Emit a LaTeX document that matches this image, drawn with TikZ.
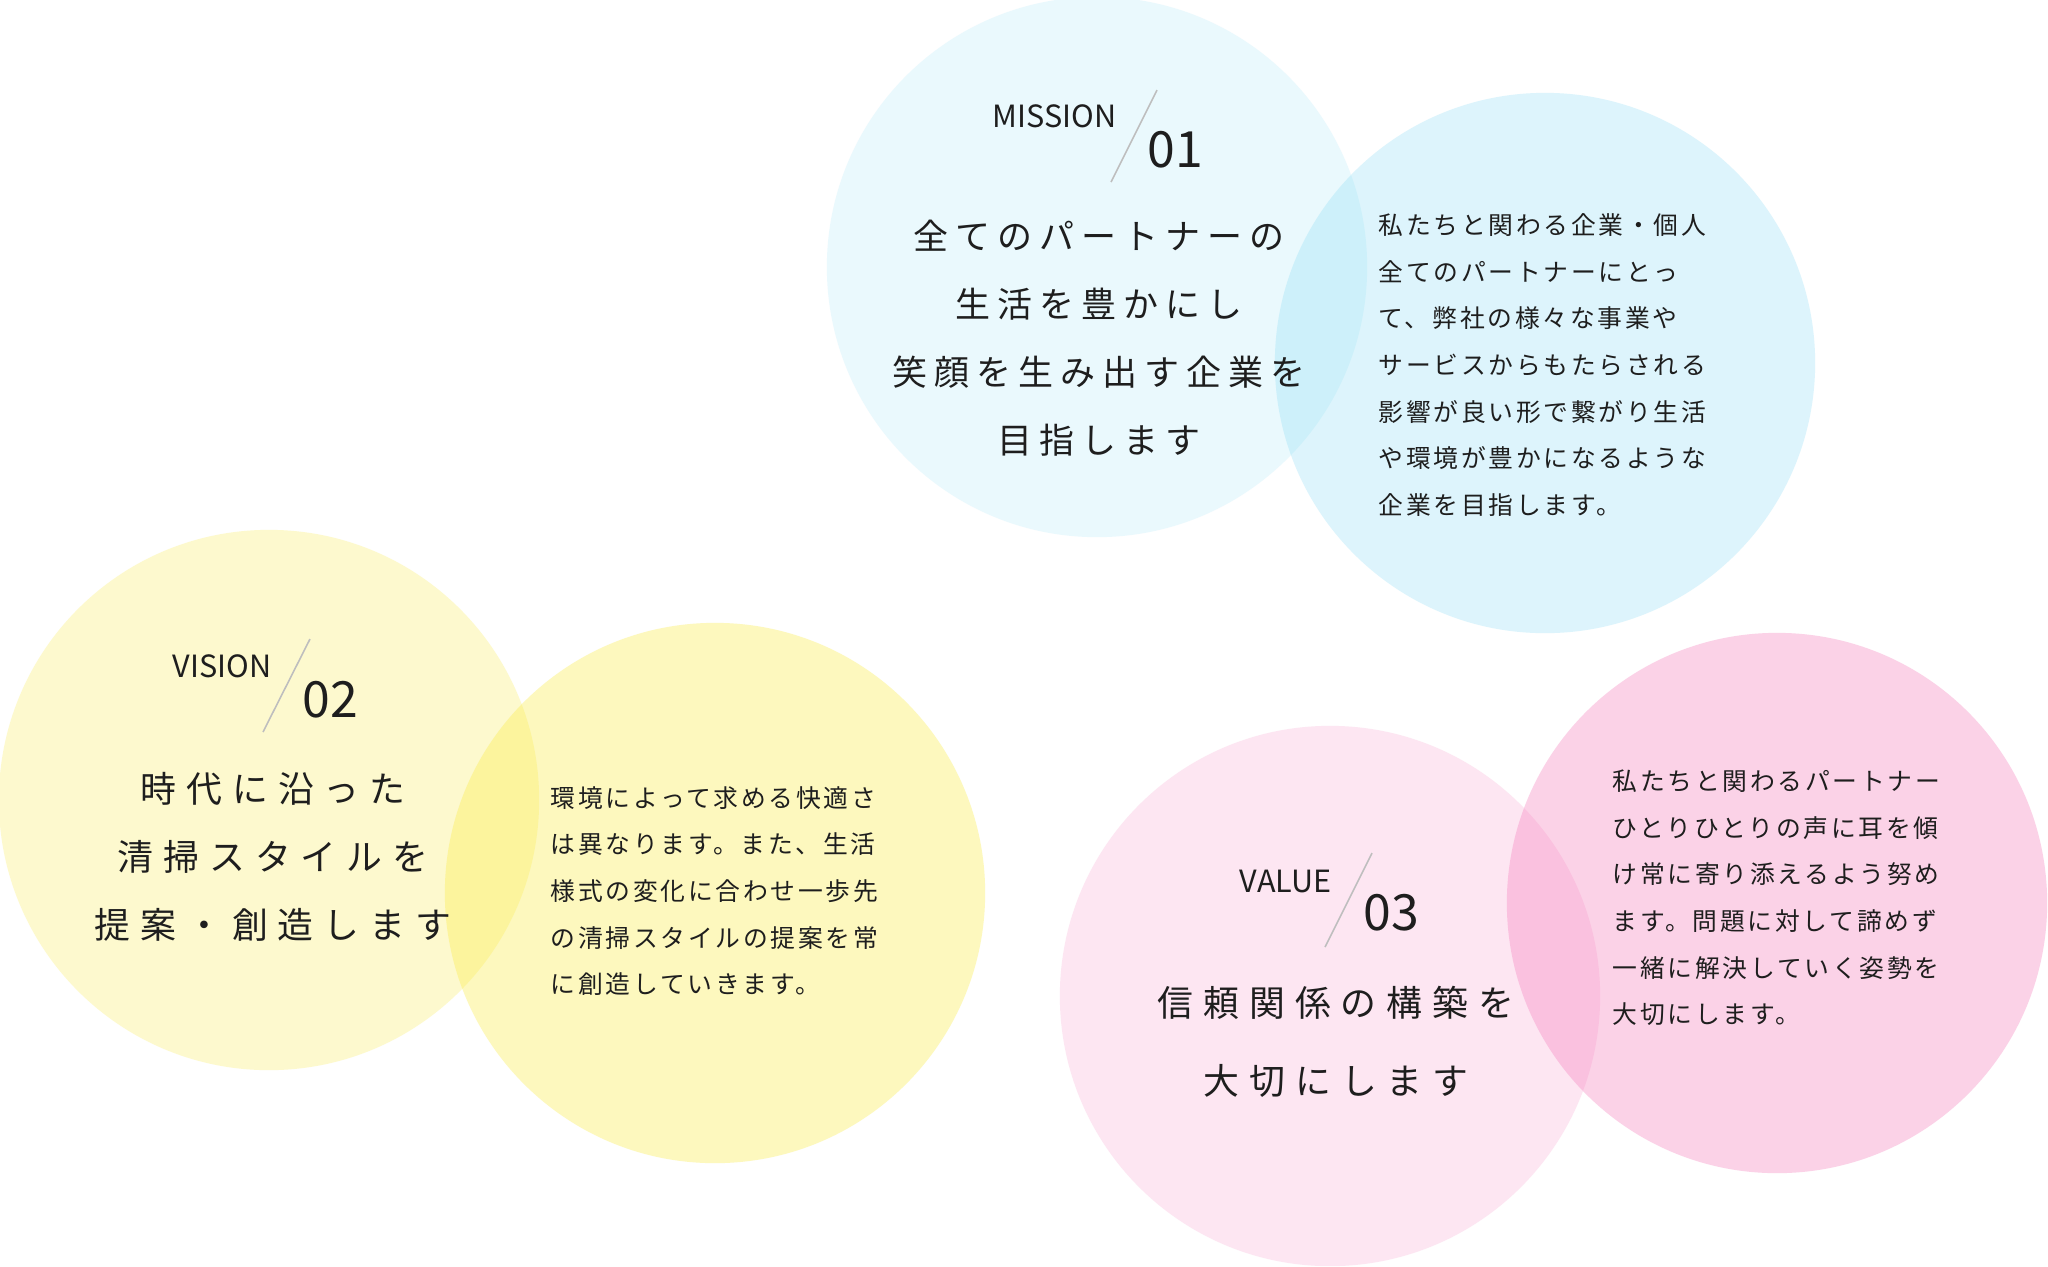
\documentclass[tikz,border=0pt]{standalone}
\usepackage{fontspec}
\usepackage{tikz}
\newfontfamily\jpfont{Noto Sans CJK JP}
\newfontfamily\jphead[LetterSpace=20]{Noto Sans CJK JP}
\newfontfamily\jpheadwide[LetterSpace=28]{Noto Sans CJK JP}
\newfontfamily\jpbody[LetterSpace=11]{Noto Sans CJK JP}
\definecolor{skyblue}{RGB}{120, 215, 245}
\definecolor{lemon}{RGB}{250, 235, 60}
\definecolor{rose}{RGB}{245, 120, 185}
\definecolor{slashgray}{RGB}{190, 190, 190}
\definecolor{inkblack}{RGB}{30, 30, 30}

\begin{document}
\begin{tikzpicture}[x=0.01cm, y=-0.01cm,
    tag/.style={inner sep=0pt, text=inkblack, font=\jpfont\fontsize{8.7}{10}\selectfont},
    num/.style={inner sep=0pt, text=inkblack, font=\jpfont\fontsize{14.2}{16}\selectfont},
    heading/.style={inner sep=0pt, align=center, text=inkblack},
    bodytext/.style={inner sep=0pt, align=left, text=inkblack, font=\jpbody\fontsize{7.05}{13.26}\selectfont},
    slash/.style={draw=slashgray, line width=0.45pt}]
    \useasboundingbox (0,0) rectangle (2048,1266);
    \fill[white] (0,0) rectangle (2048,1266);

    % mission
    \fill[skyblue, fill opacity=0.15] (1097,267) circle[radius=2.7cm];
    \fill[skyblue, fill opacity=0.25] (1545,363) circle[radius=2.7cm];
    \coordinate (mtop) at (1157,90);
    \coordinate (mbot) at (1111,182);
    \draw[slash] (mtop) -- (mbot);
    \node[tag, anchor=base east] (mtag) at (1117,127) {MISSION};
    \node[num, anchor=base west] (mnum) at (1147,167) {01};
    \node[heading, font=\jphead\fontsize{9.95}{19.35}\selectfont] (mhead) at (1099,338)
        {全てのパートナーの\\生活を豊かにし\\笑顔を生み出す企業を\\目指します};
    \node[bodytext, anchor=west] (mbody) at (1378,365)
        {私たちと関わる企業・個人\\全てのパートナーにとっ\\て、弊社の様々な事業や\\サービスからもたらされる\\影響が良い形で繋がり生活\\や環境が豊かになるような\\企業を目指します。};

    % vision
    \fill[lemon, fill opacity=0.25] (269,800) circle[radius=2.7cm];
    \fill[lemon, fill opacity=0.33] (715,893) circle[radius=2.7cm];
    \coordinate (vtop) at (310,639);
    \coordinate (vbot) at (263,732);
    \draw[slash] (vtop) -- (vbot);
    \node[tag, anchor=base east] (vtag) at (272,677) {VISION};
    \node[num, anchor=base west] (vnum) at (302,717) {02};
    \node[heading, font=\jpheadwide\fontsize{10.2}{19.35}\selectfont] (vhead) at (273,857)
        {時代に沿った\\清掃スタイルを\\提案・創造します};
    \node[bodytext, anchor=west] (vbody) at (550,891)
        {環境によって求める快適さ\\は異なります。また、生活\\様式の変化に合わせ一歩先\\の清掃スタイルの提案を常\\に創造していきます。};

    % value
    \fill[rose, fill opacity=0.18] (1330,996) circle[radius=2.7cm];
    \fill[rose, fill opacity=0.33] (1777,903) circle[radius=2.7cm];
    \coordinate (ltop) at (1372,853);
    \coordinate (lbot) at (1325,947);
    \draw[slash] (ltop) -- (lbot);
    \node[tag, anchor=base east] (ltag) at (1332,892) {VALUE};
    \node[num, anchor=base west] (lnum) at (1363,930) {03};
    \node[heading, font=\jpheadwide\fontsize{10.2}{22.2}\selectfont] (lhead) at (1336,1042)
        {信頼関係の構築を\\大切にします};
    \node[bodytext, anchor=west] (lbody) at (1612,898)
        {私たちと関わるパートナー\\ひとりひとりの声に耳を傾\\け常に寄り添えるよう努め\\ます。問題に対して諦めず\\一緒に解決していく姿勢を\\大切にします。};
\end{tikzpicture}
\end{document}
